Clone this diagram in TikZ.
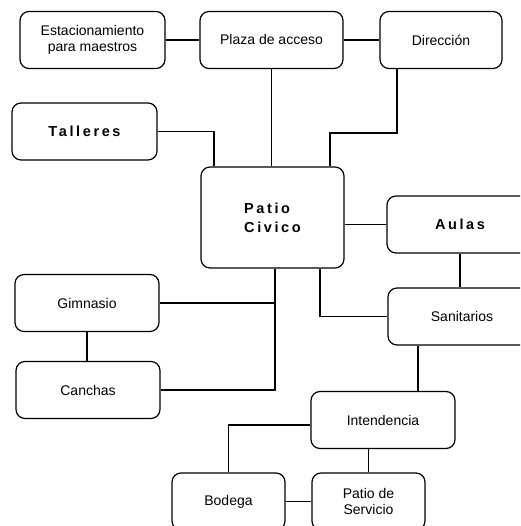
\documentclass[tikz,border=0pt]{standalone}
\usepackage{fontspec}
\setmainfont{Liberation Sans}
\newfontfamily\spacedfont[LetterSpace=18]{Liberation Sans}
\usetikzlibrary{positioning,calc}
\tikzset{
    roombox/.style={
        rectangle,
        rounded corners=9pt,
        draw,
        line width=1.2pt,
        align=center,
        minimum width=144pt,
        minimum height=57pt,
        font=\fontsize{14}{16}\selectfont
    },
    smallbox/.style={
        roombox,
        minimum width=113pt
    },
    bigbox/.style={
        roombox,
        font=\fontsize{14.5}{19}\selectfont\spacedfont\bfseries
    }
}

\begin{document}
\begin{tikzpicture}[
        x=1pt, y=-1pt,
        link/.style={draw, line width=1.2pt}
    ]
    \useasboundingbox (0,0) rectangle (520,526);
    \clip (0,0) rectangle (520,526);
    % upper row
    \node[roombox, minimum width=145pt] (est) at (92.5,40) {Estacionamiento\\para maestros};
    \node[roombox, minimum width=143pt] (plaza) at (271.5,40) {Plaza de acceso};
    \node[roombox, minimum width=122pt] (dir) at (441,40) {Direcci\'on};
    \node[bigbox, minimum width=145pt] (tall) at (84.5,131.5) {Talleres};
    % centre
    \node[bigbox, minimum width=143pt, minimum height=101pt, align=left] (civ) at (272.5,217.5) {Patio\\Civico};
    \node[bigbox, minimum width=146pt] (aulas) at (460,224.5) {Aulas};
    \node[roombox, minimum width=148pt] (sanit) at (462,316.5) {Sanitarios};
    \node[roombox] (gim) at (87,303) {Gimnasio};
    \node[roombox] (can) at (88,390) {Canchas};
    % lower part
    \node[roombox] (int) at (383,420) {Intendencia};
    \node[smallbox] (bod) at (228.5,501.5) {Bodega};
    \node[smallbox] (pser) at (368.5,501.5) {Patio de\\Servicio};

    \path[link] (est.east) -- (plaza.west);
    \path[link] (plaza.east) -- (dir.west);
    \path[link] (plaza.south) -- (plaza.south |- civ.north);
    \path[link] (dir.south -| 397,0) -- (397,133) -| (civ.north -| 330,0);
    \path[link] (tall.east) -| (civ.north -| 214,0);
    \path[link] (aulas.west) -- (aulas.west -| civ.east);
    \path[link] (aulas.south) -- (aulas.south |- sanit.north);
    \path[link] (civ.south -| 320,0) |- (sanit.west);
    \path[link] (civ.south -| 275,0) |- (can.east);
    \path[link] (gim.east) -- (gim.east -| 275,0);
    \path[link] (gim.south) -- (gim.south |- can.north);
    \path[link] (sanit.south -| 418,0) -- (int.north -| 418,0);
    \path[link] ([yshift=-5]int.west) -| (bod.north);
    \path[link] (int.south -| pser.north) -- (pser.north);
    \path[link] (bod.east) -- (pser.west);
\end{tikzpicture}
\end{document}
